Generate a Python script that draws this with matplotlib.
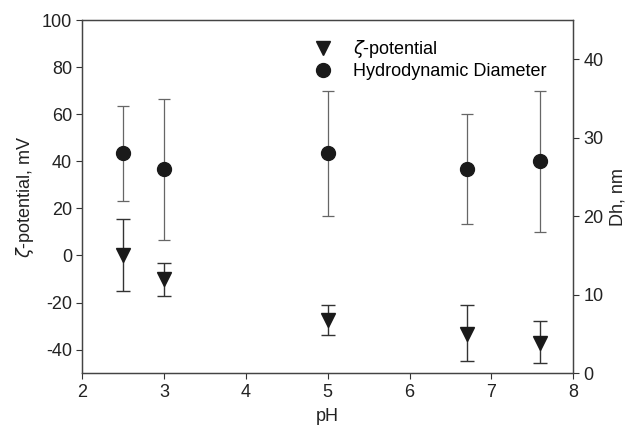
import numpy as np
import matplotlib
matplotlib.use('Agg')
import matplotlib.pyplot as plt
from matplotlib.lines import Line2D

plt.rcParams['font.family'] = ['Liberation Sans', 'DejaVu Sans']
plt.rcParams['mathtext.fontset'] = 'dejavusans'
plt.rcParams['axes.unicode_minus'] = False

# zeta-potential (left axis)
ph_zeta = [2.5, 3.0, 5.0, 6.7, 7.6]
zeta = [0.0, -10.0, -27.5, -33.3, -37.0]
zeta_lo = [15.0, 7.0, 6.3, 11.5, 8.5]
zeta_hi = [15.7, 7.0, 6.5, 12.3, 9.3]

# hydrodynamic diameter (right axis)
ph_dh = [2.5, 3.0, 5.0, 6.7, 7.6]
dh = [28.0, 26.0, 28.0, 26.0, 27.0]
dh_err = [6.0, 9.0, 8.0, 7.0, 9.0]

fig = plt.figure(figsize=(6.34, 4.37), dpi=100)
ax = fig.add_axes([0.130, 0.146, 0.774, 0.808])
ax2 = ax.twinx()

ax.errorbar(ph_zeta, zeta, yerr=[zeta_lo, zeta_hi], fmt='v', color='#1a1a1a',
            ms=10.5, ecolor='#333333', elinewidth=1.0, capsize=5, capthick=1.0)
ax2.errorbar(ph_dh, dh, yerr=dh_err, fmt='o', color='#1a1a1a', ms=10,
             ecolor='#666666', elinewidth=0.9, capsize=4, capthick=0.9)

ax.set_xlim(2, 8)
ax.set_ylim(-50, 100)
ax.set_yticks(np.arange(-40, 101, 20))
ax.set_xticks(np.arange(2, 9, 1))
ax2.set_ylim(0, 45)
ax2.set_yticks(np.arange(0, 41, 10))

ax.set_xlabel('pH', fontsize=13, color='#222222', labelpad=5)
ax.set_ylabel(r'$\zeta$-potential, mV', fontsize=13, color='#222222')
ax2.set_ylabel('Dh, nm', fontsize=13, color='#222222')

for a in (ax, ax2):
    a.tick_params(direction='out', length=4, width=0.8, labelsize=13,
                  colors='#333333', labelcolor='#222222')
    for s in a.spines.values():
        s.set_color('#444444')
        s.set_linewidth(0.9)

handles = [Line2D([], [], ls='none', marker='v', color='#1a1a1a', ms=10.5),
           Line2D([], [], ls='none', marker='o', color='#1a1a1a', ms=10)]
ax.legend(handles, [r'$\zeta$-potential', 'Hydrodynamic Diameter'],
          loc='upper left', bbox_to_anchor=(0.43, 0.995), frameon=False,
          fontsize=13, handletextpad=0.9, labelspacing=0.15,
          handlelength=1.5)

fig.savefig('out.png', dpi=100)
